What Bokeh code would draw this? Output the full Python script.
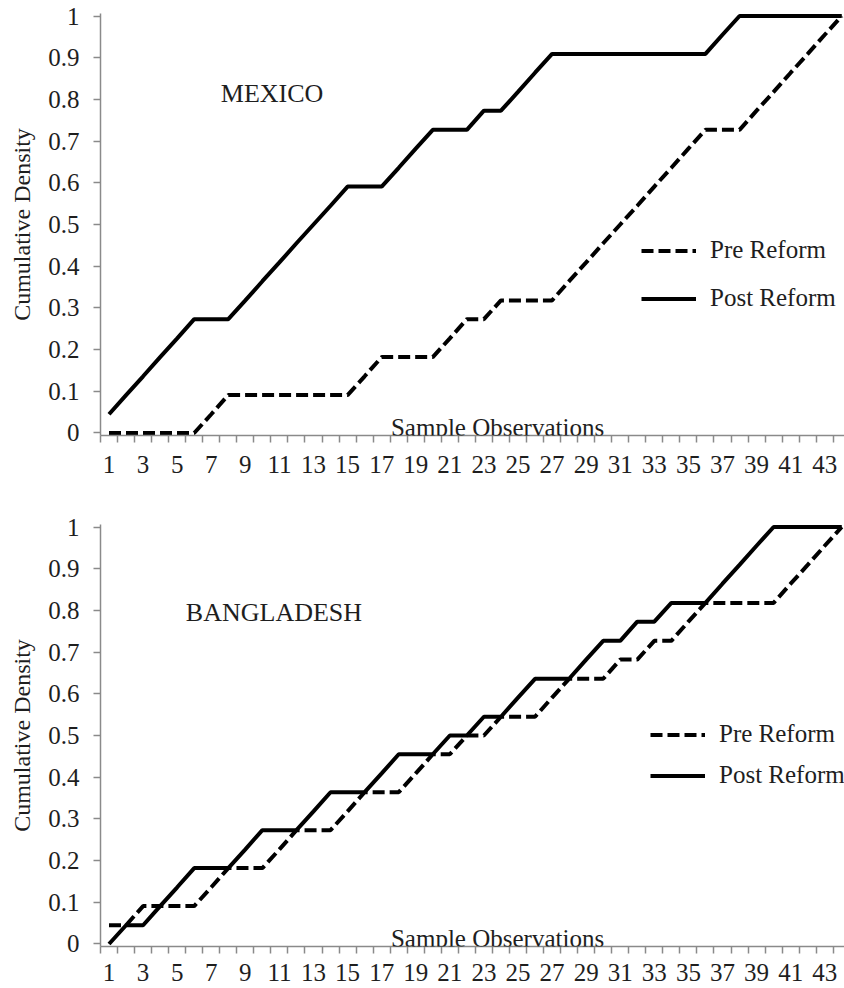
from bokeh.plotting import figure
from bokeh.models import (FixedTicker, NumeralTickFormatter, Legend, LegendItem,
                          Label, Range1d)
from bokeh.layouts import column
from bokeh.embed import file_html
from bokeh.resources import INLINE

# ---------------- data ----------------
observations = list(range(1, 45))
x_tick_values = list(range(1, 44, 2))
y_tick_values = [0, 0.1, 0.2, 0.3, 0.4, 0.5, 0.6, 0.7, 0.8, 0.9, 1]
series_names = ["Pre Reform", "Post Reform"]
panel_titles = ["MEXICO", "BANGLADESH"]
y_axis_title = "Cumulative Density"
x_axis_title = "Sample Observations"

mexico_pre = [0, 0, 0, 0, 0, 0, 0.045, 0.091, 0.091, 0.091,
              0.091, 0.091, 0.091, 0.091, 0.091, 0.136, 0.182, 0.182, 0.182, 0.182,
              0.227, 0.273, 0.273, 0.318, 0.318, 0.318, 0.318, 0.364, 0.409, 0.455,
              0.5, 0.545, 0.591, 0.636, 0.682, 0.727, 0.727, 0.727, 0.773, 0.818,
              0.864, 0.909, 0.955, 1.0]
mexico_post = [0.045, 0.091, 0.136, 0.182, 0.227, 0.273, 0.273, 0.273, 0.318, 0.364,
               0.409, 0.455, 0.5, 0.545, 0.591, 0.591, 0.591, 0.636, 0.682, 0.727,
               0.727, 0.727, 0.773, 0.773, 0.818, 0.864, 0.909, 0.909, 0.909, 0.909,
               0.909, 0.909, 0.909, 0.909, 0.909, 0.909, 0.955, 1.0, 1.0, 1.0,
               1.0, 1.0, 1.0, 1.0]
bangladesh_pre = [0.045, 0.045, 0.091, 0.091, 0.091, 0.091, 0.136, 0.182, 0.182, 0.182,
                  0.227, 0.273, 0.273, 0.273, 0.318, 0.364, 0.364, 0.364, 0.409, 0.455,
                  0.455, 0.5, 0.5, 0.545, 0.545, 0.545, 0.591, 0.636, 0.636, 0.636,
                  0.682, 0.682, 0.727, 0.727, 0.773, 0.818, 0.818, 0.818, 0.818, 0.818,
                  0.864, 0.909, 0.955, 1.0]
bangladesh_post = [0, 0.045, 0.045, 0.091, 0.136, 0.182, 0.182, 0.182, 0.227, 0.273,
                   0.273, 0.273, 0.318, 0.364, 0.364, 0.364, 0.409, 0.455, 0.455, 0.455,
                   0.5, 0.5, 0.545, 0.545, 0.591, 0.636, 0.636, 0.636, 0.682, 0.727,
                   0.727, 0.773, 0.773, 0.818, 0.818, 0.818, 0.864, 0.909, 0.955, 1.0,
                   1.0, 1.0, 1.0, 1.0]

# ---------------- styling ----------------
FONT = "Liberation Serif"
TEXT_COLOR = "#1e1e1e"
AXIS_COLOR = "#8a8a8a"
FS = "25px"


def make_panel(pre, post, title, title_x, title_y, legend_xy, legend_spacing,
               min_top, min_bottom, x_label_standoff):
    p = figure(frame_width=744, frame_height=422,
               x_range=Range1d(0.5, 44.16), y_range=Range1d(-0.006, 1.006),
               output_backend="svg", toolbar_location=None,
               min_border_left=100, min_border_right=0,
               min_border_top=min_top, min_border_bottom=min_bottom)
    p.outline_line_color = None
    p.xgrid.visible = False
    p.ygrid.visible = False
    p.background_fill_color = "white"
    p.border_fill_color = "white"

    r_pre = p.line(observations, pre, line_color="black", line_width=4,
                   line_dash="12 5")
    r_post = p.line(observations, post, line_color="black", line_width=4)

    # x axis
    xa = p.xaxis[0]
    xa.ticker = FixedTicker(ticks=x_tick_values,
                            minor_ticks=[o - 0.5 for o in observations] + [observations[-1] + 0.5])
    xa.major_tick_out = 0
    xa.major_tick_in = 0
    xa.minor_tick_out = 7
    xa.minor_tick_in = 0
    xa.minor_tick_line_color = AXIS_COLOR
    xa.minor_tick_line_width = 1.5
    xa.axis_line_color = AXIS_COLOR
    xa.axis_line_width = 1.5
    xa.major_label_text_font = FONT
    xa.major_label_text_font_size = FS
    xa.major_label_text_color = TEXT_COLOR
    xa.major_label_standoff = x_label_standoff

    # y axis
    ya = p.yaxis[0]
    ya.ticker = FixedTicker(ticks=y_tick_values, minor_ticks=[])
    ya.formatter = NumeralTickFormatter(format="0.[0]")
    ya.major_tick_out = 7
    ya.major_tick_in = 0
    ya.major_tick_line_color = AXIS_COLOR
    ya.major_tick_line_width = 1.5
    ya.axis_line_color = AXIS_COLOR
    ya.axis_line_width = 1.5
    ya.major_label_text_font = FONT
    ya.major_label_text_font_size = FS
    ya.major_label_text_color = TEXT_COLOR
    ya.major_label_standoff = 14
    ya.axis_label = y_axis_title
    ya.axis_label_text_font = FONT
    ya.axis_label_text_font_size = "24px"
    ya.axis_label_text_font_style = "normal"
    ya.axis_label_text_color = TEXT_COLOR
    ya.axis_label_standoff = 10

    p.add_layout(Label(x=title_x, y=title_y, text=title, text_align="center",
                       text_baseline="middle", text_font=FONT, text_font_size="26px",
                       text_color=TEXT_COLOR))
    p.add_layout(Label(x=23.8, y=0.014, text=x_axis_title, text_align="center",
                       text_baseline="alphabetic", text_font=FONT,
                       text_font_size=FS, text_color=TEXT_COLOR))

    legend = Legend(items=[LegendItem(label=series_names[0], renderers=[r_pre]),
                           LegendItem(label=series_names[1], renderers=[r_post])],
                    location=legend_xy, orientation="vertical",
                    padding=0, margin=0, spacing=legend_spacing,
                    glyph_width=55, glyph_height=25, label_height=25,
                    label_standoff=14, label_text_font=FONT,
                    label_text_font_size=FS, label_text_color=TEXT_COLOR,
                    border_line_alpha=0, background_fill_alpha=0)
    p.add_layout(legend)
    return p


top = make_panel(mexico_pre, mexico_post, panel_titles[0], 10.57, 0.813,
                 (541, 123), 20, 13, 44, 13)
bottom = make_panel(bangladesh_pre, bangladesh_post, panel_titles[1], 10.68, 0.796,
                    (550, 157), 13, 45, 42, 10)

layout = column(top, bottom, spacing=0)
open("out.html", "w").write(file_html(layout, INLINE))
